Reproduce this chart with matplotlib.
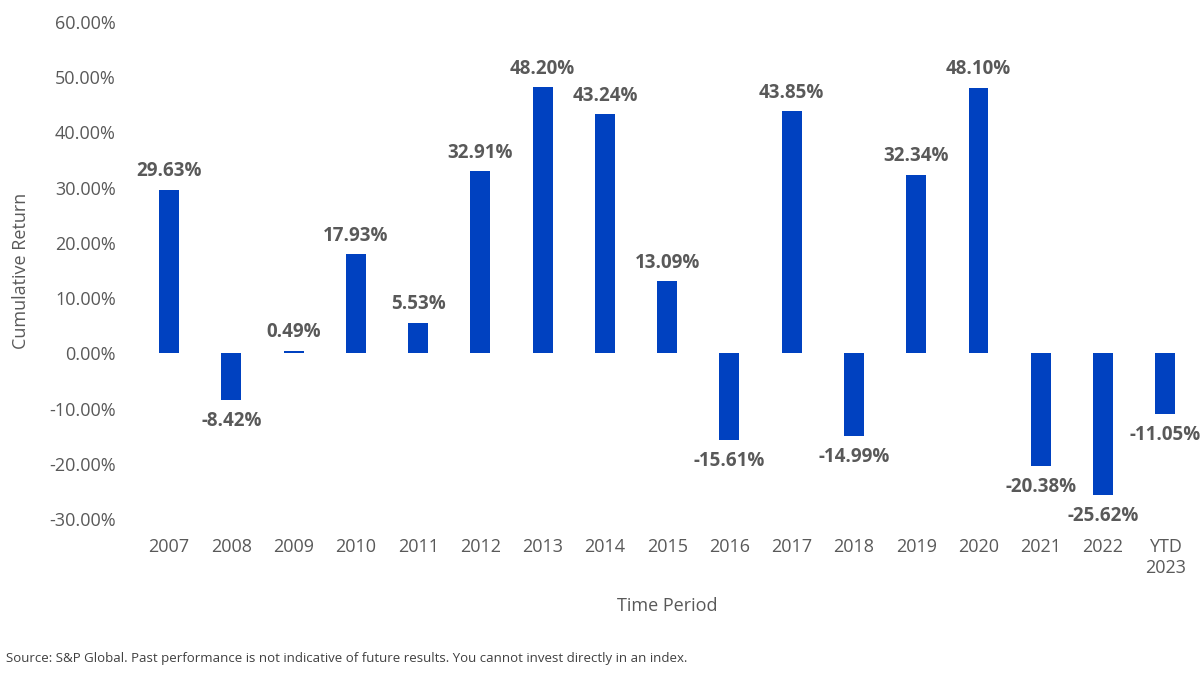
import matplotlib.pyplot as plt
import numpy as np

# Chart data
periods = ["2007", "2008", "2009", "2010", "2011", "2012", "2013", "2014", "2015",
           "2016", "2017", "2018", "2019", "2020", "2021", "2022", "YTD\n2023"]
returns = [29.63, -8.42, 0.49, 17.93, 5.53, 32.91, 48.20, 43.24, 13.09,
           -15.61, 43.85, -14.99, 32.34, 48.10, -20.38, -25.62, -11.05]
y_ticks = [-30, -20, -10, 0, 10, 20, 30, 40, 50, 60]

plt.rcParams['font.family'] = ['Open Sans', 'DejaVu Sans']
text_grey = "#595959"
bar_blue = "#0041C0"

fig = plt.figure(figsize=(12, 6.82), dpi=100)
ax = fig.add_axes([0.115, 0.239, 0.882, 0.729])

x = np.arange(len(periods))
ax.bar(x, returns, width=0.32, color=bar_blue)

# Data labels: above positive bars, below negative ones
for xi, v in zip(x, returns):
    if v >= 0:
        ax.annotate(f"{v:.2f}%", (xi, v), xytext=(0, 6), textcoords="offset points",
                    ha="center", va="bottom", fontsize=13.5, fontweight="bold", color=text_grey)
    else:
        ax.annotate(f"{v:.2f}%", (xi, v), xytext=(0, -8), textcoords="offset points",
                    ha="center", va="top", fontsize=13.5, fontweight="bold", color=text_grey)

ax.set_xlim(-0.5, len(periods) - 0.5)
ax.set_ylim(-30, 60)
ax.set_yticks(y_ticks)
ax.set_yticklabels([f"{t:.2f}%" for t in y_ticks])
ax.set_xticks(x)
ax.set_xticklabels(periods, linespacing=1.2)
ax.tick_params(axis="both", length=0, labelsize=13, colors=text_grey)
ax.tick_params(axis="x", pad=14)
ax.tick_params(axis="y", pad=16)

for s in ax.spines.values():
    s.set_visible(False)

ax.set_ylabel("Cumulative Return", fontsize=13, color=text_grey, labelpad=14)
ax.set_xlabel("Time Period", fontsize=13, color=text_grey, labelpad=14)

fig.text(0.005, 0.03, "Source: S&P Global. Past performance is not indicative of future results. "
         "You cannot invest directly in an index.", fontsize=9.5, color="#404040")

fig.savefig("out.png", dpi=100)
